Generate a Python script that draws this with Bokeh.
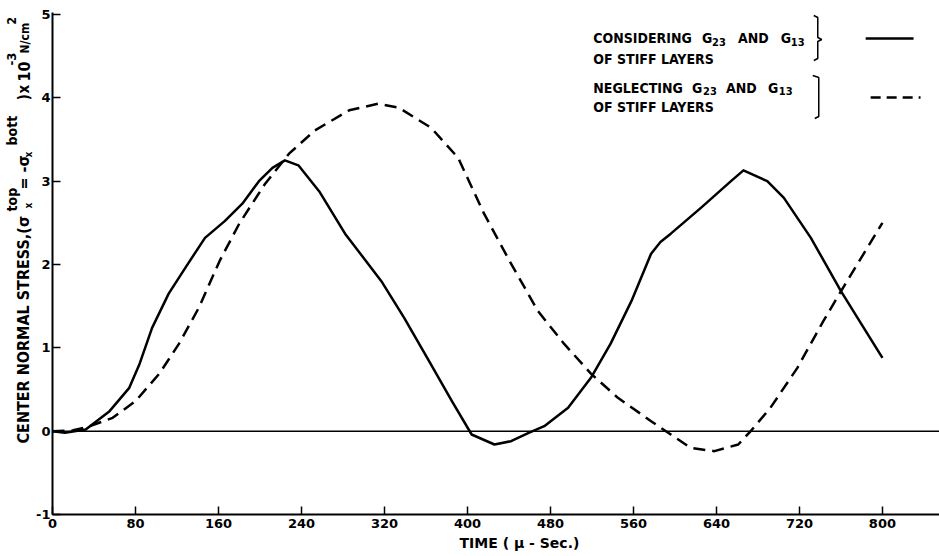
import numpy as np
from bokeh.plotting import figure
from bokeh.layouts import row, column
from bokeh.models import (Span, Label, Range1d, FixedTicker, CustomJSTickFormatter,
                          Title)
from bokeh.core.properties import value
from bokeh.embed import file_html
from bokeh.resources import INLINE

# ---------------- data ----------------
time_considering = [0, 12, 32, 55, 74, 84, 96, 112, 128, 147, 166, 183, 199, 212,
                    224, 237, 257, 282, 317, 339, 363, 385, 404, 426, 442, 459,
                    474, 497, 519, 538, 558, 577, 586, 596, 625, 654, 666, 689,
                    705, 731, 760, 782, 800]
stress_considering = [0.0, -0.02, 0.02, 0.24, 0.52, 0.81, 1.24, 1.65, 1.96, 2.32,
                      2.52, 2.73, 3.00, 3.16, 3.25, 3.19, 2.88, 2.37, 1.80, 1.36,
                      0.84, 0.36, -0.04, -0.16, -0.12, -0.02, 0.06, 0.28, 0.64,
                      1.05, 1.56, 2.13, 2.27, 2.37, 2.68, 3.00, 3.13, 3.00, 2.80,
                      2.32, 1.68, 1.24, 0.88]

time_neglecting = [0, 20, 36, 58, 80, 103, 122, 141, 161, 180, 205, 228, 253, 286,
                   314, 334, 365, 391, 416, 442, 468, 493, 519, 545, 577, 596, 615,
                   638, 661, 673, 692, 718, 743, 762, 782, 800]
stress_neglecting = [0.0, 0.01, 0.06, 0.16, 0.36, 0.69, 1.05, 1.48, 2.04, 2.49,
                     2.97, 3.33, 3.61, 3.85, 3.93, 3.88, 3.64, 3.28, 2.61, 2.01,
                     1.44, 1.05, 0.69, 0.40, 0.12, -0.04, -0.20, -0.24, -0.16,
                     0.0, 0.28, 0.76, 1.32, 1.72, 2.13, 2.50]

x_ticks = [0, 80, 160, 240, 320, 400, 480, 560, 640, 720, 800]
y_ticks = [-1, 0, 1, 2, 3, 4, 5]

x_title = "TIME ( μ - Sec.)"

# ---------------- layout constants ----------------
W, H = 939, 556
LEFT_W = 33            # strip holding the y title
MAIN_W, MAIN_H = W - LEFT_W, H
BL, BT, BB = 17, 12, 42  # borders of main figure
FRAME_L = LEFT_W + BL    # global x of frame left (50)
FW = MAIN_W - BL
FH = MAIN_H - BT - BB
X0, X1 = 0, 855
Y0, Y1 = -1, 5.024
FONT = "DejaVu Sans Condensed"
TICK_FONT = "DejaVu Sans"


def dx(gx):
    return X0 + (gx - FRAME_L) / FW * (X1 - X0)


def dy(gy):
    return Y1 - (gy - BT) / FH * (Y1 - Y0)


p = figure(width=MAIN_W, height=MAIN_H, x_range=Range1d(X0, X1),
           y_range=Range1d(Y0, Y1), output_backend="svg", toolbar_location=None,
           title=None, min_border_left=BL, min_border_right=0, min_border_top=BT,
           min_border_bottom=BB)

p.xgrid.visible = False
p.ygrid.visible = False
p.outline_line_color = None

for ax, ticks in ((p.xaxis, x_ticks), (p.yaxis, y_ticks)):
    ax.ticker = FixedTicker(ticks=ticks)
    ax.major_tick_in = 8
    ax.major_tick_out = 0
    ax.minor_tick_line_color = None
    ax.axis_line_width = 2
    ax.axis_line_color = "black"
    ax.major_tick_line_width = 1.5
    ax.major_tick_line_color = "black"
    ax.major_label_text_font = TICK_FONT
    ax.major_label_text_font_style = "bold"
    ax.major_label_text_font_size = "13px"
    ax.major_label_text_color = "black"
p.yaxis.formatter = CustomJSTickFormatter(code="return tick.toString()")
p.xaxis.major_label_standoff = 4
p.yaxis.major_label_standoff = 2

# x title below the axis
p.add_layout(Title(text=x_title, align="left", offset=457 - FRAME_L, standoff=5,
                   text_font=TICK_FONT, text_font_style="bold",
                   text_font_size="14px", text_color="black"), "below")

# zero line
p.add_layout(Span(location=0, dimension="width", line_color="black", line_width=1.5))

# curves
p.line(time_considering, stress_considering, line_color="black", line_width=2.5,
       line_join="round")
p.line(time_neglecting, stress_neglecting, line_color="black", line_width=2.5,
       line_dash="12 7", line_join="round")


# ---------------- legend ----------------
def add_label(txt, gx, gy, size="14px"):
    p.add_layout(Label(x=dx(gx), y=dy(gy), text=txt, text_font=FONT,
                       text_font_style="bold", text_font_size=size,
                       text_color="black", text_align="left",
                       text_baseline="alphabetic"))


legend_pieces = [
    ("CONSIDERING", 592, 37.5, "14px"), ("G", 701, 37.5, "14px"),
    ("23", 711, 41, "11px"), ("AND", 737, 37.5, "14px"),
    ("G", 780, 37.5, "14px"), ("13", 790, 41, "11px"),
    ("OF STIFF LAYERS", 592, 58, "14px"),
    ("NEGLECTING", 592, 87, "14px"), ("G", 691, 87, "14px"),
    ("23", 702, 90.5, "11px"), ("AND", 725, 87, "14px"),
    ("G", 767, 87, "14px"), ("13", 778, 90.5, "11px"),
    ("OF STIFF LAYERS", 592, 106, "14px"),
]
for txt, gx, gy, size in legend_pieces:
    add_label(txt, gx, gy, size)

br1 = [(813, 15), (817, 17), (817, 37), (821, 39), (817, 41), (817, 58), (813, 60)]
br2 = [(812, 75), (818, 77), (818, 116), (814, 118)]
for br in (br1, br2):
    p.line([dx(a) for a, b in br], [dy(b) for a, b in br], line_color="black",
           line_width=1.5)

p.line([dx(865), dx(913)], [dy(38), dy(38)], line_color="black", line_width=2.5)
p.line([dx(870), dx(920)], [dy(97), dy(97)], line_color="black", line_width=2.5,
       line_dash="10 6")

# ---------------- left strip for the y title ----------------
left = figure(width=LEFT_W, height=H, x_range=Range1d(0, LEFT_W),
              y_range=Range1d(0, H), output_backend="svg", toolbar_location=None,
              title=None, x_axis_location=None, y_axis_location=None,
              min_border_left=0, min_border_right=0, min_border_top=0,
              min_border_bottom=0)
left.xgrid.visible = False
left.ygrid.visible = False
left.outline_line_color = None

ylab = [
    ("CENTER NORMAL STRESS,(σ", 443, 23, "16px"),
    ("x", 208, 27.5, "10px"),
    ("top", 211, 11, "14px"),
    ("= -σ", 189, 23, "16px"),
    ("x", 157, 27.5, "10px"),
    ("bott", 145, 11, "14px"),
    (")", 100, 23, "16px"),
    ("x", 93, 23, "15px"),
    ("10", 81, 23, "16px"),
    ("-3", 65, 11, "13px"),
    ("N/cm", 53, 24, "12px"),
    ("2", 24, 11, "12px"),
]
for txt, gy, gx, size in ylab:
    left.text(x=[gx], y=[H - gy], text=[txt], angle=np.pi / 2,
              text_font=value(FONT), text_font_style="bold",
              text_font_size=size, text_color="black",
              text_align="left", text_baseline="middle")

layout = row(left, column(p, spacing=0), spacing=0)

open("out.html", "w").write(file_html(layout, INLINE))
